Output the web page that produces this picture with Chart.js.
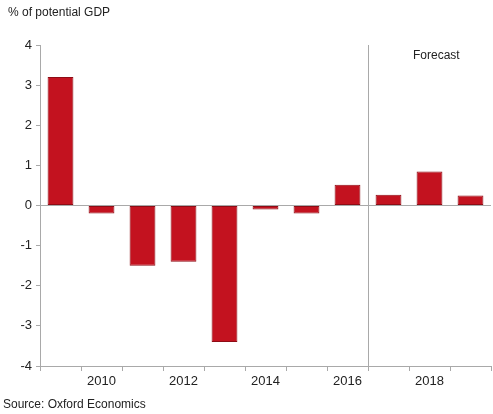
<!DOCTYPE html>
<html>
<head>
<meta charset="utf-8">
<script src="https://cdn.jsdelivr.net/npm/chart.js@4"></script>
<style>
  html, body { margin: 0; padding: 0; background: #fff; }
  #wrap { width: 493px; height: 414px; position: relative; }
</style>
</head>
<body>
<div id="wrap"><canvas id="chart" width="493" height="414"></canvas></div>
<script>
const years = ["2009", "2010", "2011", "2012", "2013", "2014", "2015", "2016", "2017", "2018", "2019"];
const gap = [3.2, -0.2, -1.5, -1.4, -3.4, -0.1, -0.2, 0.52, 0.27, 0.85, 0.25];
const firstForecast = "2017";
const yTicks = [-4, -3, -2, -1, 0, 1, 2, 3, 4];

const axisGrey = "#a9a9a9";
const textCol = "#222";
const fontFam = "'Liberation Sans', Arial, sans-serif";

// labels outside the plot + the forecast divider
const extras = {
    id: "extras",
    afterDraw(c) {
        const ctx = c.ctx;
        const x = c.scales.x, y = c.scales.y;
        const idx = years.indexOf(firstForecast);
        const xs = (x.getPixelForValue(idx - 1) + x.getPixelForValue(idx)) / 2;
        ctx.save();
        ctx.strokeStyle = axisGrey;
        ctx.lineWidth = 1;
        ctx.beginPath();
        ctx.moveTo(Math.round(xs) + 0.5, y.top);
        ctx.lineTo(Math.round(xs) + 0.5, y.bottom + 5);
        ctx.stroke();

        ctx.fillStyle = textCol;
        ctx.font = "12px " + fontFam;
        ctx.textBaseline = "middle";
        ctx.fillText("% of potential GDP", 8, 13);
        ctx.fillText("Forecast", 413, 56);
        ctx.fillText("Source: Oxford Economics", 3, 405);
        ctx.restore();
    }
};

new Chart(document.getElementById("chart"), {
    type: "bar",
    data: {
        labels: years,
        datasets: [{
            data: gap,
            backgroundColor: "#c3121f",
            borderColor: "#8e0c15",
            borderWidth: 1,
            borderSkipped: false,
            categoryPercentage: 1,
            barPercentage: 0.63
        }]
    },
    options: {
        responsive: false,
        animation: false,
        layout: { padding: { top: 45, right: 2, bottom: 18, left: 0 } },
        plugins: { legend: { display: false }, tooltip: { enabled: false } },
        scales: {
            x: {
                grid: { offset: true, drawOnChartArea: false, tickLength: 5, color: axisGrey },
                border: { color: axisGrey },
                ticks: {
                    autoSkip: false,
                    maxRotation: 0,
                    color: textCol,
                    font: { size: 13, family: fontFam },
                    padding: 3,
                    callback: (v, i) => (+years[i] % 2 === 0 ? years[i] : "")
                },
                afterFit: s => { s.height = 30; }
            },
            y: {
                min: -4,
                max: 4,
                afterBuildTicks: s => { s.ticks = yTicks.map(v => ({ value: v })); },
                grid: {
                    color: ctx => (ctx.tick && ctx.tick.value === 0 ? axisGrey : "rgba(0,0,0,0)"),
                    tickColor: axisGrey,
                    tickLength: 4
                },
                border: { color: axisGrey },
                ticks: {
                    color: textCol,
                    font: { size: 13, family: fontFam },
                    padding: 4
                },
                afterFit: s => { s.width = 40; }
            }
        }
    },
    plugins: [extras]
});
</script>
</body>
</html>
